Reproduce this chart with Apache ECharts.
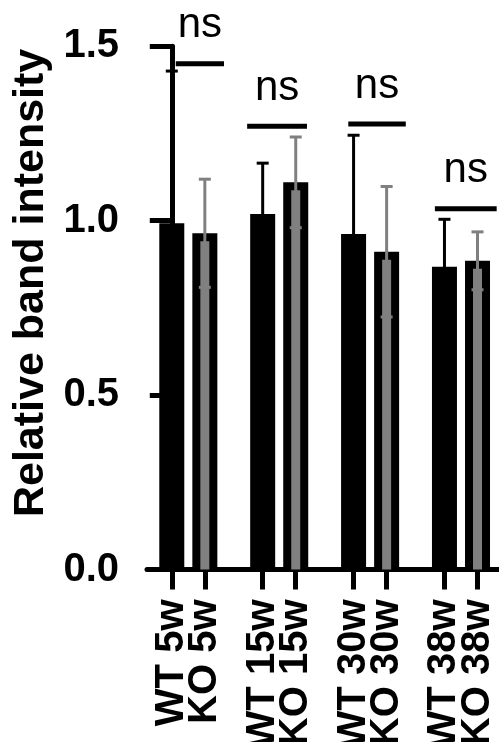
<!DOCTYPE html>
<html>
<head>
<meta charset="utf-8">
<script src="https://cdn.jsdelivr.net/npm/echarts@6/dist/echarts.min.js"></script>
<style>
  html, body { margin: 0; padding: 0; background: #fff; }
  #chart { width: 499px; height: 742px; }
</style>
</head>
<body>
<div id="chart"></div>
<script>
// groups along the x axis
const xLabels = ['WT 5w', 'KO 5w', 'WT 15w', 'KO 15w', 'WT 30w', 'KO 30w', 'WT 38w', 'KO 38w'];
const xPos = [0, 1, 2.75, 3.75, 5.5, 6.5, 8.25, 9.25];
const genotype = [0, 1, 0, 1, 0, 1, 0, 1]; // 0 = WT, 1 = KO

// mean and SD
const means = [0.993, 0.964, 1.019, 1.110, 0.962, 0.911, 0.868, 0.885];
const sds = [0.436, 0.155, 0.146, 0.130, 0.283, 0.187, 0.136, 0.083];

// significance bars
const sigFrom = [0.12, 2.28, 5.34, 7.96];
const sigTo = [1.58, 4.09, 7.08, 9.83];
const sigY = [1.45, 1.271, 1.277, 1.034];
const sigText = ['ns', 'ns', 'ns', 'ns'];

const FONT = '"Liberation Sans", Arial, sans-serif';
const GREY = '#808080';

const barData = xPos.map((x, i) => [x, means[i], sds[i], genotype[i]]);
const sigData = sigFrom.map((x, i) => [x, sigTo[i], sigY[i]]);

// WT and KO labels sit on two stacked x axes so they never hide each other
const wtPos = xPos.filter((p, i) => genotype[i] === 0);
const koPos = xPos.filter((p, i) => genotype[i] === 1);

function labelFor(v) {
  const i = xPos.findIndex(p => Math.abs(p - v) < 1e-6);
  return i >= 0 ? xLabels[i] : '';
}

function renderBar(params, api) {
  const x = api.value(0), v = api.value(1), sd = api.value(2), g = api.value(3);
  const top = api.coord([x, v]);
  const base = api.coord([x, 0]);
  const up = api.coord([x, v + sd]);
  const dn = api.coord([x, v - sd]);
  const cx = top[0];
  const children = [{
    type: 'rect',
    shape: { x: cx - 12.5, y: top[1], width: 25, height: base[1] - top[1] },
    style: { fill: '#000' }
  }];
  if (g === 1) {
    children.push({
      type: 'rect',
      shape: { x: cx - 4.5, y: top[1] + 8, width: 9, height: base[1] - top[1] - 8 },
      style: { fill: GREY }
    });
  }
  const es = { stroke: g === 1 ? GREY : '#000', lineWidth: 3 };
  children.push(
    { type: 'line', shape: { x1: cx, y1: up[1], x2: cx, y2: dn[1] }, style: es },
    { type: 'line', shape: { x1: cx - 6, y1: up[1], x2: cx + 6, y2: up[1] }, style: es },
    { type: 'line', shape: { x1: cx - 6, y1: dn[1], x2: cx + 6, y2: dn[1] }, style: es }
  );
  return { type: 'group', children: children };
}

function renderSig(params, api) {
  const a = api.coord([api.value(0), api.value(2)]);
  const b = api.coord([api.value(1), api.value(2)]);
  return {
    type: 'group',
    children: [{
      type: 'line',
      shape: { x1: a[0], y1: a[1], x2: b[0], y2: b[1] },
      style: { stroke: '#000', lineWidth: 5 }
    }, {
      type: 'text',
      x: (a[0] + b[0]) / 2,
      y: a[1] - 38,
      style: {
        text: sigText[params.dataIndex],
        fontFamily: FONT,
        fontSize: 42,
        fill: '#000',
        align: 'center',
        verticalAlign: 'middle'
      }
    }]
  };
}

function makeXAxis(ticks, showLine) {
  return {
    type: 'value',
    position: 'bottom',
    offset: 0,
    min: -0.75,
    max: 9.9,
    splitLine: { show: false },
    axisLine: { show: showLine, onZero: false, lineStyle: { color: '#000', width: 5 } },
    axisTick: {
      show: true,
      customValues: ticks,
      length: 20,
      lineStyle: { color: '#000', width: 5 }
    },
    axisLabel: {
      customValues: ticks,
      showMinLabel: true,
      showMaxLabel: true,
      hideOverlap: false,
      rotate: 90,
      margin: 30,
      fontFamily: FONT,
      fontSize: 40,
      fontWeight: 'bold',
      color: '#000',
      formatter: labelFor
    }
  };
}

const chart = echarts.init(document.getElementById('chart'));
chart.setOption({
  animation: false,
  backgroundColor: '#fff',
  grid: { left: 147, right: 0, top: 46.3, bottom: 172.5, outerBoundsMode: 'none', containLabel: false },
  xAxis: [makeXAxis(wtPos, true), makeXAxis(koPos, false)],
  yAxis: {
    type: 'value',
    min: 0,
    max: 1.5,
    interval: 0.5,
    name: 'Relative band intensity',
    nameLocation: 'middle',
    nameGap: 92,
    nameTextStyle: {
      fontFamily: FONT,
      fontSize: 43,
      fontWeight: 'bold',
      color: '#000',
      padding: [0, 0, 0, 50]
    },
    splitLine: { show: false },
    axisLine: { show: true, lineStyle: { color: '#000', width: 5 } },
    axisTick: { show: true, length: 22, lineStyle: { color: '#000', width: 5 } },
    axisLabel: {
      margin: 28,
      fontFamily: FONT,
      fontSize: 40,
      fontWeight: 'bold',
      color: '#000',
      formatter: v => v.toFixed(1)
    }
  },
  series: [{
    type: 'custom',
    clip: false,
    xAxisIndex: 0,
    renderItem: renderBar,
    data: barData,
    z: 3
  }, {
    type: 'custom',
    clip: false,
    xAxisIndex: 0,
    renderItem: renderSig,
    data: sigData,
    z: 4
  }]
});
</script>
</body>
</html>
